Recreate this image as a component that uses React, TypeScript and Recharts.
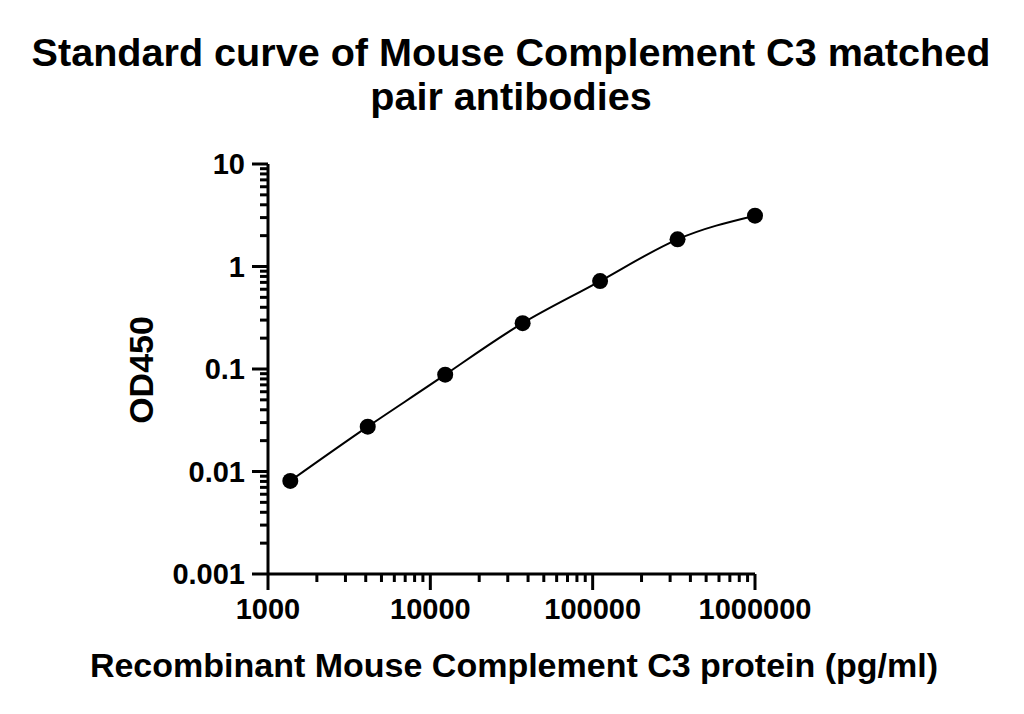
import React from "react";
import { LineChart, Line, XAxis, YAxis } from "recharts";

// Standard concentrations (pg/ml), 3-fold dilution series
const concentrations = [1372, 4115, 12346, 37037, 111111, 333333, 1000000];
// Measured OD450
const od450 = [0.0081, 0.0274, 0.088, 0.28, 0.72, 1.84, 3.13];

const xMajorTicks = [1000, 10000, 100000, 1000000];
const xTickLabels = ["1000", "10000", "100000", "1000000"];
const yMajorTicks = [0.001, 0.01, 0.1, 1, 10];
const yTickLabels = ["0.001", "0.01", "0.1", "1", "10"];
const minorMultipliers = [2, 3, 4, 5, 6, 7, 8, 9];

const titleLines = ["Standard curve of Mouse Complement C3 matched", "pair antibodies"];
const xAxisTitle = "Recombinant Mouse Complement C3 protein (pg/ml)";
const yAxisTitle = "OD450";

const FONT = "'Liberation Sans', Arial, Helvetica, sans-serif";

const withMinors = (majors: number[]) => {
  const out: number[] = [...majors];
  for (let i = 0; i < majors.length - 1; i++) {
    minorMultipliers.forEach((m) => out.push(majors[i] * m));
  }
  return out.sort((a, b) => a - b);
};

const xTicks = withMinors(xMajorTicks);
const yTicks = withMinors(yMajorTicks);

const data = concentrations.map((c, i) => ({ x: c, y: od450[i] }));

const XTick = (props: any) => {
  const { x, y, payload } = props;
  const idx = xMajorTicks.indexOf(payload.value);
  const major = idx >= 0;
  return (
    <g>
      <line x1={x} x2={x} y1={y} y2={y + (major ? 16 : 8)} stroke="#000" strokeWidth={3} />
      {major && (
        <text x={x} y={y + 45} textAnchor="middle" fontFamily={FONT} fontWeight="bold" fontSize={29} fill="#000">
          {xTickLabels[idx]}
        </text>
      )}
    </g>
  );
};

const YTick = (props: any) => {
  const { x, y, payload } = props;
  const idx = yMajorTicks.indexOf(payload.value);
  const major = idx >= 0;
  return (
    <g>
      <line x1={x} x2={x - (major ? 16 : 8)} y1={y} y2={y} stroke="#000" strokeWidth={3} />
      {major && (
        <text x={x - 23} y={y} dy="0.36em" textAnchor="end" fontFamily={FONT} fontWeight="bold" fontSize={29} fill="#000">
          {yTickLabels[idx]}
        </text>
      )}
    </g>
  );
};

export default function App() {
  return (
    <div style={{ position: "absolute", left: 0, top: 0, width: 1024, height: 714, background: "#fff" }}>
      <LineChart
        width={1024}
        height={714}
        data={data}
        margin={{ top: 164, right: 269, bottom: 80, left: 168 }}
      >
        <XAxis
          dataKey="x"
          type="number"
          scale="log"
          domain={[1000, 1000000]}
          ticks={xTicks}
          interval={0}
          tick={<XTick />}
          tickLine={false}
          tickSize={0}
          tickMargin={0}
          height={60}
          axisLine={{ stroke: "#000", strokeWidth: 3 }}
        />
        <YAxis
          type="number"
          scale="log"
          domain={[0.001, 10]}
          ticks={yTicks}
          interval={0}
          tick={<YTick />}
          tickLine={false}
          tickSize={0}
          tickMargin={0}
          width={100}
          axisLine={{ stroke: "#000", strokeWidth: 3 }}
        />
        <Line
          dataKey="y"
          type="natural"
          stroke="#000"
          strokeWidth={2}
          dot={{ r: 8, fill: "#000", stroke: "#000", strokeWidth: 0 }}
          activeDot={false}
          isAnimationActive={false}
        />
      </LineChart>
      <svg
        width={1024}
        height={714}
        style={{ position: "absolute", left: 0, top: 0, pointerEvents: "none" }}
      >
        <text x={511} y={66} textAnchor="middle" fontFamily={FONT} fontWeight="bold" fontSize={39.6} fill="#000">
          {titleLines[0]}
        </text>
        <text x={511} y={110} textAnchor="middle" fontFamily={FONT} fontWeight="bold" fontSize={39.6} fill="#000">
          {titleLines[1]}
        </text>
        <text x={514} y={677} textAnchor="middle" fontFamily={FONT} fontWeight="bold" fontSize={34} fill="#000">
          {xAxisTitle}
        </text>
        <text
          x={0}
          y={0}
          transform="translate(153, 370) rotate(-90)"
          textAnchor="middle"
          fontFamily={FONT}
          fontWeight="bold"
          fontSize={34}
          fill="#000"
        >
          {yAxisTitle}
        </text>
      </svg>
    </div>
  );
}
